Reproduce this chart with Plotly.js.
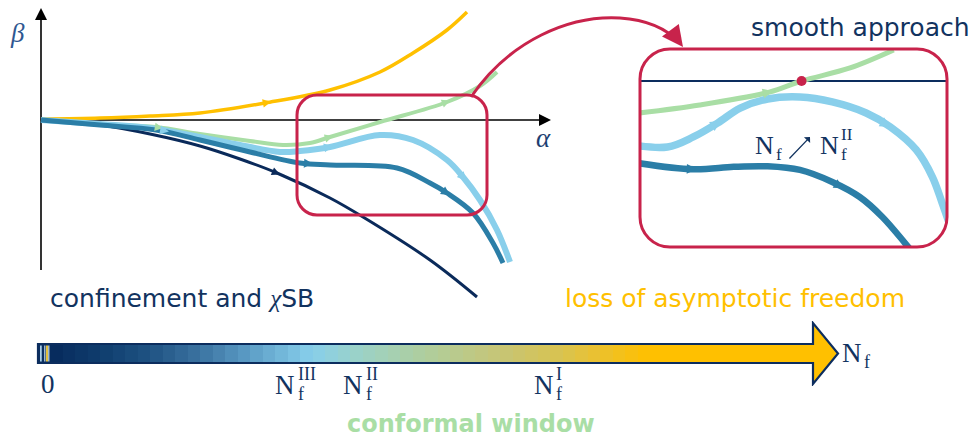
<!DOCTYPE html>
<html><head><meta charset="utf-8">
<script src="https://cdn.plot.ly/plotly-3.0.1.min.js"></script>
<style>html,body{margin:0;padding:0;background:#fff}#chart{width:978px;height:438px}</style>
</head><body><div id="chart"></div>
<script>
// ---------- main flow diagram (alpha, beta) ----------
const yelA=[0,0.59,1.09,1.59,2.24,2.89,3.39,3.72,4.06,4.26];
const yelB=[0.01,0.02,0.04,0.07,0.17,0.30,0.48,0.67,0.90,1.08];
const grnA=[0,0.59,1.15,1.59,2.09,2.42,2.69,2.89,3.39,4.06,4.39,4.56];
const grnB=[0,-0.04,-0.07,-0.14,-0.21,-0.25,-0.23,-0.17,-0.02,0.18,0.34,0.48];
const lbA=[0,0.59,1.09,1.59,1.99,2.39,2.59,2.89,3.39,3.72,4.06,4.22,4.39,4.56,4.69];
const lbB=[0,-0.04,-0.08,-0.17,-0.25,-0.32,-0.31,-0.27,-0.15,-0.20,-0.40,-0.57,-0.80,-1.10,-1.42];
const mbA=[0,0.59,1.15,1.59,2.09,2.59,2.89,3.56,3.89,4.06,4.32,4.52,4.62];
const mbB=[0,-0.05,-0.10,-0.20,-0.32,-0.43,-0.45,-0.48,-0.63,-0.73,-0.93,-1.23,-1.43];
const dnA=[0,0.59,1.09,1.59,1.99,2.36,2.89,3.22,3.89,4.36];
const dnB=[0,-0.05,-0.14,-0.26,-0.39,-0.53,-0.78,-0.97,-1.40,-1.77];
// flow-direction arrow positions (alpha) on each curve
const yelArrows=[2.27], grnArrows=[1.19,2.89,4.06], lbArrows=[1.25,2.89,4.22], mbArrows=[2.69,4.06], dnArrows=[2.36];

// ---------- inset ("smooth approach") ----------
const iGrnA=[2.50,2.93,3.36,3.56,3.86,4.13];
const iGrnB=[-0.20,-0.145,-0.067,0,0.079,0.188];
const iLbA=[2.50,2.73,2.89,3.04,3.18,3.35,3.55,3.75,3.96,4.11,4.27,4.37,4.43,4.48];
const iLbB=[-0.386,-0.40,-0.339,-0.255,-0.164,-0.109,-0.097,-0.127,-0.194,-0.279,-0.418,-0.582,-0.739,-0.88];
const iMbA=[2.50,2.89,3.14,3.35,3.55,3.75,3.92,4.06,4.20,4.24];
const iMbB=[-0.49,-0.535,-0.52,-0.517,-0.539,-0.612,-0.703,-0.824,-0.982,-1.03];
const iGrnArrows=[3.36], iLbArrows=[3.04,4.09], iMbArrows=[2.89,3.80];

// ---------- N_f bar ----------
const nfTickVals=[0,9.9,12.5,20];
const nfTickSup=['','III','II','I'];
const gradNf=[0.08,2,4,6,8,10.5,12.5,15,18,20.5,22,24,30.6];
const gradCol=['#062a5c','#0f3c6d','#1e5282','#3a72a0','#5b9cc5','#87ceeb','#9cd2c6','#aece9e','#c6c577','#d8c350','#ebc12f','#ffc000','#ffc000'];
const barStart=-0.4, barEnd=30.6, tipNf=31.6;

// ---------- colours ----------
const CRIMSON='#c8234b', TXT='#12335f';
const C_YEL='#ffc000', C_GRN='#a9dea5', C_LB='#89cfeb', C_MB='#2b7ea7', C_DN='#0a2a5a';

const W=978,H=438;
const PX=x=>x/W, PY=y=>1-y/H;

function interp(xs,ys,x){
  for(let i=0;i<xs.length-1;i++){
    if(x>=xs[i]&&x<=xs[i+1]){const t=(x-xs[i])/(xs[i+1]-xs[i]);return ys[i]+t*(ys[i+1]-ys[i]);}
  }
  return ys[ys.length-1];
}
function line(xs,ys,col,w,xa,ya){
  return {x:xs,y:ys,mode:'lines',line:{color:col,width:w,shape:'spline',smoothing:1},xaxis:xa,yaxis:ya,hoverinfo:'skip',showlegend:false};
}
const ann=[];
function flowArrows(xs,ys,list,col,xr,yr,d,size){
  list.forEach(a=>{
    ann.push({x:a+d,y:interp(xs,ys,a+d),ax:a-d,ay:interp(xs,ys,a-d),xref:xr,yref:yr,axref:xr,ayref:yr,
      showarrow:true,arrowhead:2,arrowsize:size,arrowwidth:1.5,arrowcolor:col,text:''});
  });
}
function txt(xp,yp,text,font,xa){
  ann.push({x:xp,y:yp,xref:'paper',yref:'paper',text:text,showarrow:false,xanchor:xa||'center',yanchor:'middle',borderpad:0,font:font});
}
function rrect(x0,x1,y0,y1,r){
  const k=0.448*r;
  return `M${x0+r},${y0} L${x1-r},${y0} C${x1-k},${y0} ${x1},${y0+k} ${x1},${y0+r} L${x1},${y1-r} C${x1},${y1-k} ${x1-k},${y1} ${x1-r},${y1} L${x0+r},${y1} C${x0+k},${y1} ${x0},${y1-k} ${x0},${y1-r} L${x0},${y0+r} C${x0},${y0+k} ${x0+k},${y0} ${x0+r},${y0} Z`;
}
function nfLabel(x,xref,yp,sup,size,col){
  const NS=size, SS=Math.round(size*0.66);
  const wN=0.722*NS, wS=Math.max(sup.length*0.333*SS,0.333*SS);
  const sh=(wN-wS)/2;
  const f={family:'Liberation Serif',size:NS,color:col};
  ann.push({x:x,xref:xref,y:yp,yref:'paper',text:'N',showarrow:false,xanchor:'right',yanchor:'middle',xshift:sh,borderpad:0,font:f});
  ann.push({x:x,xref:xref,y:yp,yref:'paper',text:'f',showarrow:false,xanchor:'left',yanchor:'middle',xshift:sh+0.5,yshift:-9,borderpad:0,font:{family:'Liberation Serif',size:SS,color:col}});
  if(sup) ann.push({x:x,xref:xref,y:yp,yref:'paper',text:sup,showarrow:false,xanchor:'left',yanchor:'middle',xshift:sh+0.5,yshift:11,borderpad:0,font:{family:'Liberation Serif',size:SS,color:col}});
}

const traces=[
  line(dnA,dnB,C_DN,3,'x','y'),
  line(yelA,yelB,C_YEL,3.5,'x','y'),
  line(grnA,grnB,C_GRN,4,'x','y'),
  line(lbA,lbB,C_LB,6,'x','y'),
  line(mbA,mbB,C_MB,5,'x','y'),
  line(iGrnA,iGrnB,C_GRN,5,'x2','y2'),
  line(iLbA,iLbB,C_LB,7.5,'x2','y2'),
  line(iMbA,iMbB,C_MB,6.5,'x2','y2')
];
// fixed point where the green curve meets beta=0 in the inset
let fpA=null;
for(let i=0;i<iGrnB.length-1;i++){ if(iGrnB[i]<=0&&iGrnB[i+1]>=0){fpA=iGrnA[i]+(0-iGrnB[i])/(iGrnB[i+1]-iGrnB[i])*(iGrnA[i+1]-iGrnA[i]);break;} }
traces.push({x:[fpA],y:[0],mode:'markers',marker:{color:CRIMSON,size:10},xaxis:'x2',yaxis:'y2',hoverinfo:'skip',showlegend:false});

// gradient bar as heatmap
const zmin=gradNf[0], zmax=gradNf[gradNf.length-1];
const cs=gradNf.map((v,i)=>[(v-zmin)/(zmax-zmin),gradCol[i]]);
const cx=[]; for(let v=zmin+0.25; v<zmax; v+=0.5) cx.push(v);
traces.push({type:'heatmap',x:cx,y:[0],z:[cx.slice()],zmin:zmin,zmax:zmax,colorscale:cs,showscale:false,zsmooth:false,xaxis:'x3',yaxis:'y3',hoverinfo:'skip'});

flowArrows(yelA,yelB,yelArrows,C_YEL,'x','y',0.03,1.1);
flowArrows(grnA,grnB,grnArrows,C_GRN,'x','y',0.03,1.1);
flowArrows(lbA,lbB,lbArrows,C_LB,'x','y',0.03,1.2);
flowArrows(mbA,mbB,mbArrows,C_MB,'x','y',0.03,1.2);
flowArrows(dnA,dnB,dnArrows,C_DN,'x','y',0.03,1.1);
flowArrows(iGrnA,iGrnB,iGrnArrows,C_GRN,'x2','y2',0.02,1.3);
flowArrows(iLbA,iLbB,iLbArrows,C_LB,'x2','y2',0.02,1.4);
flowArrows(iMbA,iMbB,iMbArrows,C_MB,'x2','y2',0.02,1.3);

// main axes arrowheads
ann.push({x:0,y:1.12,ax:0,ay:1.0,xref:'x',yref:'y',axref:'x',ayref:'y',showarrow:true,arrowhead:2,arrowsize:1.5,arrowwidth:1.6,arrowcolor:'#000',text:''});
ann.push({x:5.1,y:0,ax:5.0,ay:0,xref:'x',yref:'y',axref:'x',ayref:'y',showarrow:true,arrowhead:2,arrowsize:1.5,arrowwidth:1.6,arrowcolor:'#000',text:''});
// connector arrowhead
ann.push({x:6.42,y:0.73,ax:6.36,ay:0.81,xref:'x',yref:'y',axref:'x',ayref:'y',showarrow:true,arrowhead:2,arrowsize:1.4,arrowwidth:3,arrowcolor:CRIMSON,text:''});

// axis labels
txt(PX(17),PY(33),'β',{family:'Liberation Serif',size:27,color:'#2f5791',style:'italic'});
txt(PX(543),PY(138),'α',{family:'Liberation Serif',size:27,color:'#1e3f72',style:'italic'});

// texts
const SANS='DejaVu Sans';
txt(PX(49),PY(298),'confinement and <span style="font-family:Liberation Serif;font-style:italic">χ</span>SB',{family:SANS,size:25,color:TXT},'left');
txt(PX(564),PY(298),'loss of asymptotic freedom',{family:SANS,size:25,color:C_YEL},'left');
txt(PX(471),PY(424),'<b>conformal window</b>',{family:SANS,size:24,color:C_GRN});
txt(PX(860),PY(27),'smooth approach',{family:SANS,size:25,color:TXT});

// inset label  N_f ↗ N_f^II
nfLabel(PX(768),'paper',PY(146),'',26,TXT);
ann.push({x:PX(810),y:PY(137),ax:PX(788),ay:PY(160),xref:'paper',yref:'paper',axref:'paper',ayref:'paper',showarrow:true,arrowhead:1,arrowsize:1.1,arrowwidth:1.3,arrowcolor:TXT,text:''});
nfLabel(PX(836),'paper',PY(146),'II',26,TXT);

// bar tick labels
nfTickVals.forEach((v,i)=>{
  if(i===0) ann.push({x:v,xref:'x3',y:PY(384),yref:'paper',text:'0',showarrow:false,xanchor:'center',yanchor:'middle',font:{family:'Liberation Serif',size:27,color:TXT}});
  else nfLabel(v,'x3',PY(385),nfTickSup[i],27,TXT);
});
nfLabel(PX(856),'paper',PY(353),'',27,TXT);

// shapes
const A=p=>(p-41)/100, B=p=>(120-p)/100;
const shapes=[
  {type:'line',xref:'x',yref:'y',x0:0,y0:-1.5,x1:0,y1:1.05,line:{color:'#000',width:1.6},layer:'below'},
  {type:'line',xref:'x',yref:'y',x0:0,y0:0,x1:5.03,y1:0,line:{color:'#000',width:1.6},layer:'below'},
  {type:'path',xref:'x',yref:'y',path:rrect(A(297),A(487),B(215),B(95),0.2),line:{color:CRIMSON,width:3}},
  {type:'path',xref:'x',yref:'y',path:rrect(A(640),A(947),B(247),B(49),0.3),line:{color:CRIMSON,width:3}},
  {type:'path',xref:'x',yref:'y',path:`M${A(471)},${B(97)} C${A(510)},${B(40)} ${A(570)},${B(15)} ${A(620)},${B(18)} C${A(650)},${B(20)} ${A(668)},${B(30)} ${A(680)},${B(43)}`,line:{color:CRIMSON,width:3}},
  {type:'line',xref:'x2 domain',yref:'y2',x0:0,x1:1,y0:0,y1:0,line:{color:'#0c2d5e',width:2},layer:'below'},
  // bar: little left block
  {type:'rect',xref:'x3',yref:'y3',x0:barStart,x1:0.08,y0:-0.5,y1:0.5,fillcolor:'#0b2f60',line:{width:0}},
  {type:'rect',xref:'x3',yref:'y3',x0:-0.32,x1:-0.25,y0:-0.42,y1:0.42,fillcolor:'#a9cde6',line:{width:0}},
  {type:'rect',xref:'x3',yref:'y3',x0:-0.16,x1:-0.1,y0:-0.42,y1:0.42,fillcolor:'#9fb8cc',line:{width:0}},
  {type:'rect',xref:'x3',yref:'y3',x0:-0.08,x1:0.0,y0:-0.42,y1:0.42,fillcolor:'#e2c03e',line:{width:0}},
  {type:'rect',xref:'x3',yref:'y3',x0:0.0,x1:0.06,y0:-0.42,y1:0.42,fillcolor:'#9fb8cc',line:{width:0}},
  {type:'path',xref:'x3',yref:'y3',path:`M${barEnd-0.02},1.6 L${tipNf},0 L${barEnd-0.02},-1.6 Z`,fillcolor:C_YEL,line:{width:0}},
  {type:'path',xref:'x3',yref:'y3',path:`M${barStart},0.5 L${barEnd},0.5 L${barEnd},1.6 L${tipNf},0 L${barEnd},-1.6 L${barEnd},-0.5 L${barStart},-0.5 Z`,line:{color:'#0c2d5e',width:2.2}}
];

const ax=(dom,rng)=>({domain:dom,range:rng,visible:false,fixedrange:true});
const layout={
  width:W,height:H,margin:{l:0,r:0,t:0,b:0},paper_bgcolor:'#fff',plot_bgcolor:'rgba(0,0,0,0)',
  showlegend:false,hovermode:false,
  xaxis:ax([0,1],[-0.41,9.37]), yaxis:ax([PY(310),1],[-1.9,1.2]),
  xaxis2:Object.assign(ax([PX(640),PX(947)],[2.56,4.46]),{anchor:'y2'}),
  yaxis2:Object.assign(ax([PY(247),PY(49)],[-1.006,0.194]),{anchor:'x2'}),
  xaxis3:Object.assign(ax([PX(33),PX(843)],[-0.6,31.8]),{anchor:'y3'}),
  yaxis3:Object.assign(ax([PY(386),PY(321)],[-1.71,1.71]),{anchor:'x3'}),
  shapes:shapes, annotations:ann
};
Plotly.newPlot('chart',traces,layout,{staticPlot:true,displayModeBar:false});
</script></body></html>
